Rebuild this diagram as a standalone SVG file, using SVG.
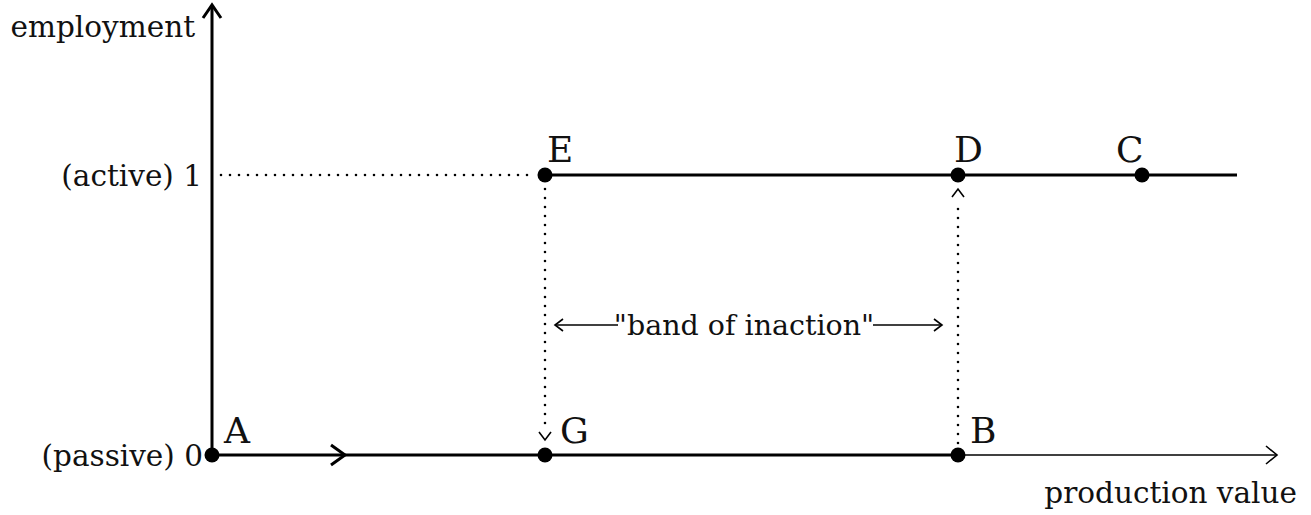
<svg xmlns="http://www.w3.org/2000/svg" width="1311" height="515" viewBox="0 0 1311 515">
<style>
text{font-family:"DejaVu Serif","Liberation Serif",serif;fill:#111}
.t{font-size:29.5px}
.b{font-size:28.5px}
.l{font-size:36px}
.ax{stroke:#000;stroke-width:3;fill:none}
.thin{stroke:#000;stroke-width:1.6;fill:none}
.dot{stroke:#000;stroke-width:2.6;stroke-dasharray:0 9;stroke-linecap:round;fill:none}
.pt{fill:#000}
</style>
<rect width="1311" height="515" fill="#fff"/>
<g id="connectors">
<line class="ax" x1="212" y1="455" x2="212" y2="6"/>
<path class="ax" d="M203 18 L212 5 L221 18"/>
<line class="ax" x1="212" y1="455" x2="958" y2="455"/>
<line class="thin" x1="958" y1="455" x2="1276" y2="455"/>
<path class="thin" d="M1266 446 L1277 455 L1266 464"/>
<path class="ax" d="M331 445 L345 455 L331 465"/>
<line class="ax" x1="545" y1="175" x2="1237" y2="175"/>
<line class="dot" x1="221" y1="175" x2="536" y2="175"/>
<line class="dot" x1="545" y1="189" x2="545" y2="432"/>
<path class="thin" d="M539 432 L545 440 L551 432"/>
<line class="dot" x1="958" y1="443" x2="958" y2="200"/>
<path class="thin" d="M952 197 L958 189 L964 197"/>
<line class="thin" x1="555" y1="325" x2="618" y2="325"/>
<path class="thin" d="M563 319 L555 325 L563 331"/>
<line class="thin" x1="873" y1="325" x2="942" y2="325"/>
<path class="thin" d="M934 319 L942 325 L934 331"/>
</g>
<g id="A"><circle class="pt" cx="212" cy="455" r="7.5"/><text class="l" x="224" y="443">A</text></g>
<g id="G"><circle class="pt" cx="545" cy="455" r="7.5"/><text class="l" x="560" y="443">G</text></g>
<g id="B"><circle class="pt" cx="958" cy="455" r="7.5"/><text class="l" x="970" y="443">B</text></g>
<g id="E"><circle class="pt" cx="545" cy="175" r="7.5"/><text class="l" x="547" y="162">E</text></g>
<g id="D"><circle class="pt" cx="958" cy="175" r="7.5"/><text class="l" x="954" y="162">D</text></g>
<g id="C"><circle class="pt" cx="1142" cy="175" r="7.5"/><text class="l" x="1116" y="162">C</text></g>
<g id="labels">
<text class="t" x="195" y="37" text-anchor="end">employment</text>
<text class="t" x="202" y="186" text-anchor="end">(active) 1</text>
<text class="t" x="203" y="466" text-anchor="end">(passive) 0</text>
<text class="t" x="1297" y="503" text-anchor="end">production value</text>
<text class="b" x="744" y="335" text-anchor="middle">"band of inaction"</text>
</g>
</svg>
